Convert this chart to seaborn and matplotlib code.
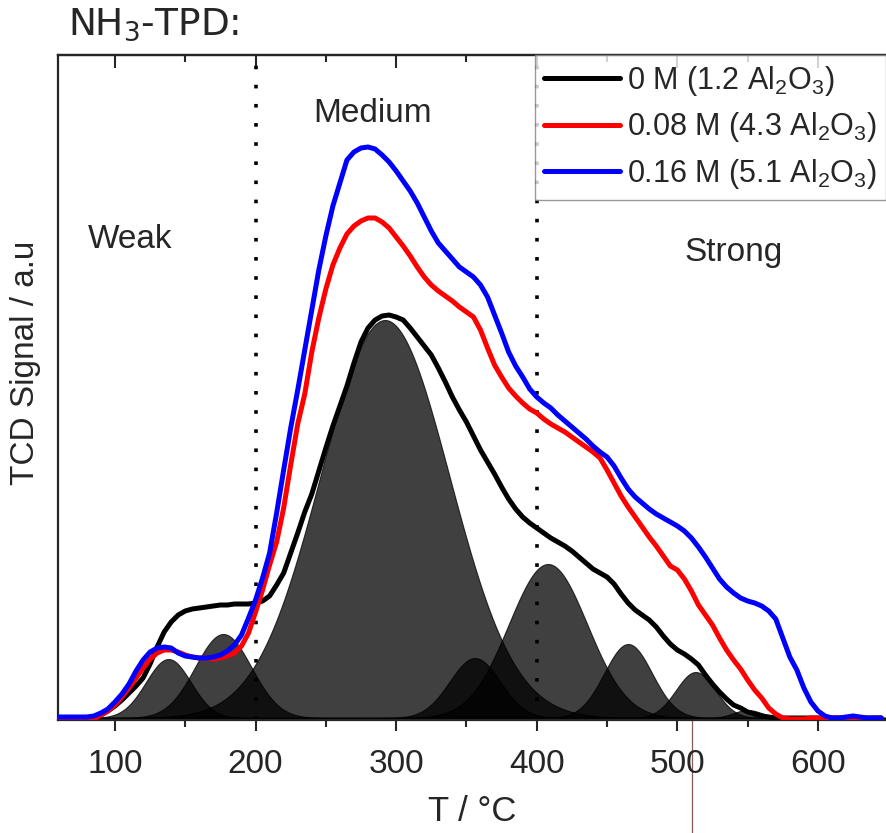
import numpy as np
import pandas as pd
import matplotlib
matplotlib.use("Agg")
import matplotlib.pyplot as plt
import matplotlib.transforms as mtransforms
import seaborn as sns

# ---------------- data ----------------
temps = list(range(60, 650, 5))

sig_0M = [0, 0, 0, 0, 0, 1, 3, 7, 12, 18, 25, 32, 40, 54, 71, 86, 96, 103, 107, 109,
          110, 111, 112, 113, 113, 114, 114, 114, 115, 117, 122, 133, 145, 165, 185, 206, 224, 247, 270, 292,
          312, 332, 355, 376, 390, 398, 402, 403, 401, 398, 390, 381, 372, 363, 350, 336, 321, 308, 296, 282,
          268, 256, 244, 231, 219, 209, 201, 195, 190, 185, 180, 176, 172, 167, 161, 155, 149, 145, 141, 134,
          124, 115, 108, 103, 98, 91, 82, 74, 68, 64, 59, 53, 43, 34, 26, 19, 13, 10, 6, 4,
          2, 1, 0, 0, 0, 0, 0, 0, 0, 0, 0, 0, 0, 0, 0, 0, 0, 0]

sig_008M = [-1, -1, -1, -1, -1, -1, 3, 7, 13, 21, 30, 40, 50, 59, 65, 68, 68, 66, 63, 61,
            60, 60, 59, 60, 62, 65, 72, 85, 106, 128, 153, 176, 210, 253, 294, 324, 366, 400, 429, 453,
            470, 484, 492, 497, 500, 500, 496, 490, 481, 472, 462, 451, 441, 433, 427, 422, 417, 411, 406, 401,
            388, 370, 353, 341, 330, 322, 315, 309, 305, 299, 294, 290, 286, 281, 276, 271, 266, 260, 248, 235,
            222, 211, 201, 191, 181, 172, 162, 152, 148, 139, 127, 113, 103, 93, 80, 68, 58, 49, 38, 28,
            20, 10, 4, 0, -1, -1, -1, 0, 0, -1, 0, 0, -1, 0, 0, -1, 0, 0]

sig_016M = [1, 1, 1, 1, 1, 2, 5, 9, 16, 24, 34, 47, 58, 66, 70, 71, 70, 65, 62, 61,
            60, 60, 61, 63, 67, 73, 83, 100, 118, 140, 165, 205, 248, 290, 328, 368, 408, 448, 482, 512,
            535, 558, 566, 570, 571, 569, 563, 556, 547, 537, 527, 515, 501, 487, 475, 467, 459, 451, 446, 441,
            433, 421, 403, 385, 366, 352, 341, 329, 321, 315, 310, 303, 297, 291, 285, 279, 272, 266, 261, 252,
            240, 229, 221, 215, 209, 204, 200, 196, 192, 187, 180, 171, 161, 150, 139, 131, 125, 120, 117, 115,
            112, 107, 99, 80, 61, 48, 30, 16, 7, 2, 0, 0, 1, 2, 1, 0, 0, 0]

sample_labels = ["0 M (1.2 Al$_2$O$_3$)",
                 "0.08 M (4.3 Al$_2$O$_3$)",
                 "0.16 M (5.1 Al$_2$O$_3$)"]
line_colors = ["#000000", "#ff0000", "#0000ff"]

# Gaussian components of the deconvolution (0 M sample)
peak_centers = [138, 177, 292, 356, 408, 465, 513, 550]
peak_heights = [59, 84, 398, 60, 154, 74, 46, 8]
peak_sigmas = [16, 20, 46, 18, 28, 17, 14, 10]

region_names = ["Weak", "Medium", "Strong"]
region_x = [111, 283, 540]
region_y = [478, 605, 465]
boundaries = [200, 400]
xticks = [100, 200, 300, 400, 500, 600]

# ---------------- style ----------------
sns.set_style("ticks")
plt.rcParams["font.family"] = ["Liberation Sans", "DejaVu Sans"]
plt.rcParams["mathtext.fontset"] = "custom"
plt.rcParams["mathtext.rm"] = "Liberation Sans"
plt.rcParams["mathtext.it"] = "Liberation Sans:italic"
plt.rcParams["mathtext.bf"] = "Liberation Sans:bold"

fig = plt.figure(figsize=(8.86, 8.33), dpi=100)
ax = fig.add_axes([58 / 886, 113 / 833, 828 / 886, 665 / 833])

xgrid = np.linspace(60, 650, 1200)
for c, h, s in zip(peak_centers, peak_heights, peak_sigmas):
    g = h * np.exp(-0.5 * ((xgrid - c) / s) ** 2)
    ax.fill_between(xgrid, 0, g, facecolor="black", alpha=0.75, edgecolor="black",
                    linewidth=0.8, zorder=1)

df = pd.concat([
    pd.DataFrame({"T": temps, "signal": vals, "sample": lab})
    for vals, lab in zip([sig_0M, sig_008M, sig_016M], sample_labels)
])
sns.lineplot(data=df, x="T", y="signal", hue="sample", hue_order=sample_labels,
             palette=line_colors, linewidth=3.6, ax=ax, zorder=3, legend=False)

for b in boundaries:
    ax.axvline(b, color="black", linewidth=2.6, linestyle=(0, (1, 4.3)), zorder=2)

for name, xx, yy in zip(region_names, region_x, region_y):
    ax.text(xx, yy, name, fontsize=24, ha="center", va="center")

ax.set_xlim(59.5, 648.4)
ax.set_ylim(-2, 663)
ax.set_xticks(xticks)
ax.set_xticks([150, 250, 350, 450, 550], minor=True)
ax.set_yticks([])
ax.tick_params(axis="x", which="major", direction="out", length=8, width=1.5,
               labelsize=24, pad=13)
ax.tick_params(axis="x", which="minor", direction="out", length=5, width=1.5)
for sp in ["left", "bottom", "top"]:
    ax.spines[sp].set_linewidth(1.6)
ax.spines["right"].set_visible(False)

top = ax.secondary_xaxis("top")
top.set_xticks(xticks)
top.set_xticks([150, 250, 350, 450, 550], minor=True)
top.tick_params(axis="x", which="major", direction="in", length=9, width=1.5, labeltop=False)
top.tick_params(axis="x", which="minor", direction="in", length=5, width=1.5)
top.spines["top"].set_linewidth(1.6)

ax.set_xlabel("T / °C", fontsize=25, labelpad=11)
ax.set_ylabel("TCD Signal / a.u", fontsize=24)
ax.yaxis.set_label_coords(-0.021, 0.537)

handles = [plt.Line2D([], [], color=c, linewidth=3.6) for c in line_colors]
leg = ax.legend(handles, sample_labels, loc="upper left", bbox_to_anchor=(0.576, 1.0),
                fontsize=22, frameon=True, fancybox=False, edgecolor="#808080",
                handlelength=2.5, handletextpad=0.2, labelspacing=0.4,
                borderpad=0.3, borderaxespad=0.0)
leg.get_frame().set_linewidth(1.0)
leg.set_zorder(5)

fig.text(68 / 886, 1 - 35 / 833, "NH$_3$-TPD:", fontsize=27, family="DejaVu Sans",
         math_fontfamily="dejavusans", ha="left", va="baseline")

# thin stray marker line below the axis
trans = mtransforms.blended_transform_factory(ax.transData, ax.transAxes)
ax.plot([510.4, 510.4], [-0.17, 0.0], transform=trans, color="#8a5a5a", linewidth=0.9,
        clip_on=False, zorder=0)

fig.savefig("out.png", dpi=100)
